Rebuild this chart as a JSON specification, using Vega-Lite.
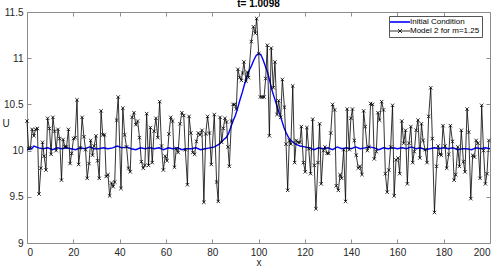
{
"$schema": "https://vega.github.io/schema/vega-lite/v6.json",
"width": 463, "height": 231,
"autosize": {"type": "none"},
"padding": {"left": 27, "top": 12, "right": 8, "bottom": 23},
"background": "white",
"config": {
  "font": "Liberation Sans",
  "view": {"stroke": null},
  "axis": {"grid": false, "minExtent": 0, "domainColor": "#8c8c8c", "tickColor": "#8c8c8c", "domainWidth": 1, "tickWidth": 1, "tickSize": -4, "labelPadding": 8, "labelColor": "#262626", "labelFontSize": 10, "titleColor": "#262626", "titleFontSize": 10, "titleFontWeight": "normal"}
},
"title": {"text": "t= 1.0098", "fontSize": 10, "fontWeight": "bold", "offset": 4.5, "dy": 14.5, "baseline": "alphabetic", "anchor": "middle", "color": "#000"},
"datasets": {
"init": [
{"x":0,"y":10.01},{"x":2,"y":10.02},{"x":3,"y":10.05},{"x":5,"y":10.03},{"x":7,"y":10.02},{"x":9,"y":10.03},{"x":11,"y":10.01},{"x":13,"y":10.03},{"x":15,"y":10.02},{"x":17,"y":10.03},{"x":19,"y":10.02},{"x":21,"y":10.01},{"x":23,"y":10.03},{"x":25,"y":10.02},{"x":27,"y":10.04},{"x":29,"y":10.02},{"x":31,"y":10.02},{"x":33,"y":10.03},{"x":35,"y":10.02},{"x":37,"y":10.03},{"x":39,"y":10.05},{"x":41,"y":10.03},{"x":43,"y":10.04},{"x":45,"y":10.02},{"x":47,"y":10.01},{"x":49,"y":10.03},{"x":51,"y":10.02},{"x":53,"y":10.03},{"x":55,"y":10.02},{"x":57,"y":10.03},{"x":59,"y":10.01},{"x":61,"y":10.03},{"x":63,"y":10.02},{"x":65,"y":10.03},{"x":67,"y":10.01},{"x":69,"y":10.02},{"x":71,"y":10.02},{"x":73,"y":10.03},{"x":75,"y":10.01},{"x":77,"y":10.02},{"x":79,"y":10.03},{"x":81,"y":10.04},{"x":83,"y":10.07},{"x":85,"y":10.12},{"x":86,"y":10.14},{"x":87,"y":10.18},{"x":88,"y":10.25},{"x":89,"y":10.32},{"x":90,"y":10.38},{"x":91,"y":10.46},{"x":92,"y":10.55},{"x":93,"y":10.63},{"x":94,"y":10.72},{"x":95,"y":10.8},{"x":96,"y":10.87},{"x":97,"y":10.92},{"x":98,"y":10.98},{"x":99,"y":11.03},{"x":100,"y":11.05},{"x":101,"y":11.04},{"x":102,"y":10.98},{"x":103,"y":10.91},{"x":104,"y":10.84},{"x":105,"y":10.74},{"x":106,"y":10.64},{"x":107,"y":10.56},{"x":108,"y":10.48},{"x":109,"y":10.4},{"x":110,"y":10.33},{"x":111,"y":10.25},{"x":112,"y":10.19},{"x":113,"y":10.14},{"x":114,"y":10.11},{"x":115,"y":10.09},{"x":116,"y":10.07},{"x":117,"y":10.06},{"x":118,"y":10.05},{"x":120,"y":10.04},{"x":122,"y":10.03},{"x":124,"y":10.01},{"x":126,"y":10.03},{"x":128,"y":10.02},{"x":130,"y":10.03},{"x":132,"y":10.01},{"x":134,"y":10.04},{"x":136,"y":10.02},{"x":138,"y":10.03},{"x":140,"y":10.02},{"x":142,"y":10.04},{"x":144,"y":10.02},{"x":146,"y":10.03},{"x":148,"y":10.04},{"x":150,"y":10.03},{"x":152,"y":10.01},{"x":154,"y":10.03},{"x":156,"y":10.02},{"x":158,"y":10.03},{"x":160,"y":10.02},{"x":162,"y":10.03},{"x":164,"y":10.02},{"x":166,"y":10.04},{"x":168,"y":10.02},{"x":170,"y":10.03},{"x":172,"y":10.01},{"x":174,"y":10.02},{"x":176,"y":10.03},{"x":178,"y":10.02},{"x":180,"y":10.03},{"x":182,"y":10.02},{"x":184,"y":10.03},{"x":186,"y":10.01},{"x":188,"y":10.02},{"x":190,"y":10.02},{"x":192,"y":10.01},{"x":194,"y":10.03},{"x":196,"y":10.02},{"x":198,"y":10.03},{"x":200,"y":10.02}
],
"model": [
{"x":0,"y":10.32},{"x":0.7,"y":10.02},{"x":1.5,"y":10.03},{"x":2.2,"y":10.23},{"x":3.0,"y":10.16},{"x":3.7,"y":10.23},{"x":4.5,"y":10.24},{"x":5.2,"y":9.53},{"x":6.0,"y":9.81},{"x":6.7,"y":10.09},{"x":7.4,"y":9.94},{"x":8.2,"y":9.79},{"x":8.9,"y":10.35},{"x":9.7,"y":10.24},{"x":10.4,"y":9.96},{"x":11.2,"y":10.36},{"x":11.9,"y":10.21},{"x":12.6,"y":10.0},{"x":13.4,"y":10.23},{"x":14.1,"y":10.13},{"x":14.9,"y":9.68},{"x":15.6,"y":10.12},{"x":16.4,"y":10.04},{"x":17.1,"y":10.04},{"x":17.9,"y":10.23},{"x":18.6,"y":9.86},{"x":19.3,"y":9.97},{"x":20.1,"y":10.13},{"x":20.8,"y":10.14},{"x":21.6,"y":10.55},{"x":22.3,"y":9.85},{"x":23.1,"y":10.03},{"x":23.8,"y":10.36},{"x":24.6,"y":10.15},{"x":25.3,"y":10.01},{"x":26.0,"y":9.7},{"x":26.8,"y":9.86},{"x":27.5,"y":10.11},{"x":28.3,"y":9.95},{"x":29.0,"y":10.05},{"x":29.8,"y":10.16},{"x":30.5,"y":9.89},{"x":31.2,"y":9.7},{"x":32.0,"y":10.43},{"x":32.7,"y":10.17},{"x":33.5,"y":10.17},{"x":34.2,"y":9.72},{"x":35.0,"y":9.74},{"x":35.7,"y":9.51},{"x":36.5,"y":9.65},{"x":37.2,"y":9.61},{"x":37.9,"y":9.66},{"x":38.7,"y":10.33},{"x":39.4,"y":10.58},
{"x":40.6,"y":9.59},{"x":41.4,"y":10.46},{"x":42.2,"y":10.17},{"x":43.0,"y":10.04},{"x":43.8,"y":9.81},{"x":44.6,"y":9.77},{"x":45.4,"y":10.36},{"x":46.2,"y":10.41},{"x":47.0,"y":10.28},{"x":47.8,"y":10.32},{"x":48.6,"y":10.14},{"x":49.4,"y":9.88},{"x":50.2,"y":9.81},{"x":50.9,"y":9.84},{"x":51.7,"y":10.4},{"x":52.5,"y":9.84},{"x":53.3,"y":10.25},{"x":54.1,"y":9.87},{"x":54.9,"y":10.21},{"x":55.7,"y":10.35},{"x":56.5,"y":10.14},{"x":57.3,"y":10.53},{"x":58.1,"y":10.05},{"x":58.9,"y":9.79},{"x":59.7,"y":9.94},{"x":60.5,"y":9.89},{"x":61.3,"y":10.18},{"x":62.1,"y":10.36},{"x":62.9,"y":10.32},{"x":63.7,"y":9.82},{"x":64.5,"y":10.02},{"x":65.3,"y":9.98},{"x":66.1,"y":10.29},{"x":66.9,"y":10.41},{"x":67.7,"y":10.38},{"x":68.4,"y":10.01},{"x":69.3,"y":9.63},{"x":70.0,"y":10.37},{"x":70.8,"y":10.19},{"x":71.6,"y":9.98},{"x":72.4,"y":9.96},{"x":73.2,"y":10.1},{"x":74.0,"y":10.19},{"x":74.8,"y":10.17},{"x":75.6,"y":10.22},{"x":76.4,"y":9.44},{"x":77.2,"y":10.18},{"x":78.0,"y":10.37},{"x":78.8,"y":10.19},{"x":79.6,"y":9.85},
{"x":80.9,"y":10.39},{"x":81.9,"y":9.66},{"x":82.6,"y":9.45},{"x":83.4,"y":10.36},{"x":84.1,"y":10.09},{"x":84.8,"y":10.24},{"x":85.5,"y":10.35},{"x":86.2,"y":10.31},{"x":86.8,"y":10.04},{"x":87.4,"y":9.83},{"x":88.3,"y":10.32},{"x":89.0,"y":10.5},{"x":89.7,"y":10.5},{"x":90.4,"y":10.45},{"x":91.1,"y":10.88},{"x":91.9,"y":10.79},{"x":92.6,"y":10.76},{"x":93.1,"y":10.84},{"x":93.7,"y":10.96},{"x":94.6,"y":10.75},{"x":95.2,"y":10.85},{"x":95.7,"y":10.79},{"x":96.9,"y":11.18},{"x":97.8,"y":11.34},{"x":98.6,"y":11.27},{"x":99.2,"y":11.43},{"x":100.1,"y":11.05},{"x":100.8,"y":10.58},{"x":101.6,"y":10.58},{"x":102.4,"y":10.58},{"x":103.1,"y":10.78},{"x":103.8,"y":11.14},{"x":104.7,"y":10.16},{"x":105.5,"y":11.11},{"x":106.4,"y":10.68},{"x":107.1,"y":10.96},{"x":108.0,"y":10.39},{"x":108.7,"y":10.54},{"x":109.6,"y":10.36},{"x":110.3,"y":10.77},{"x":111.2,"y":10.47},{"x":111.9,"y":10.07},{"x":112.6,"y":9.57},{"x":113.3,"y":10.11},{"x":114.0,"y":10.07},{"x":114.8,"y":10.7},{"x":115.6,"y":9.87},{"x":116.3,"y":10.11},{"x":117.1,"y":10.09},{"x":117.9,"y":10.09},{"x":118.5,"y":10.26},{"x":119.4,"y":9.87},{"x":120.2,"y":9.77},{"x":120.9,"y":10.25},{"x":121.7,"y":10.02},{"x":122.5,"y":9.75},{"x":123.4,"y":10.34},{"x":124.1,"y":9.84},{"x":124.8,"y":9.37},{"x":125.7,"y":9.87},{"x":126.4,"y":10.29},{"x":127.1,"y":9.64},{"x":128.0,"y":10.0},{"x":128.7,"y":10.04},{"x":129.6,"y":9.97},{"x":130.3,"y":9.97},{"x":131.2,"y":10.19},
{"x":132.0,"y":10.5},{"x":132.9,"y":10.44},{"x":133.6,"y":9.62},{"x":134.5,"y":9.57},{"x":135.2,"y":9.74},{"x":135.9,"y":9.7},{"x":136.8,"y":10.01},{"x":137.6,"y":9.45},{"x":138.3,"y":10.45},{"x":139.2,"y":10.01},{"x":139.9,"y":10.35},{"x":140.6,"y":10.45},{"x":141.4,"y":10.11},{"x":142.2,"y":9.95},{"x":143.1,"y":9.81},{"x":143.8,"y":9.83},{"x":144.7,"y":9.74},{"x":145.4,"y":10.43},{"x":146.1,"y":10.26},{"x":147.0,"y":10.0},{"x":147.7,"y":10.04},{"x":148.4,"y":10.51},{"x":149.3,"y":10.5},{"x":150.0,"y":9.91},{"x":150.9,"y":9.99},{"x":151.6,"y":10.41},{"x":152.3,"y":10.33},{"x":153.2,"y":10.53},{"x":154.0,"y":10.44},{"x":154.8,"y":9.75},{"x":155.6,"y":9.55},{"x":156.3,"y":9.79},{"x":157.1,"y":10.04},
{"x":157.9,"y":10.49},{"x":158.6,"y":9.51},{"x":159.4,"y":9.9},{"x":160.3,"y":9.92},{"x":161.0,"y":9.75},{"x":161.9,"y":10.32},{"x":162.7,"y":10.08},{"x":163.5,"y":10.22},{"x":164.3,"y":9.64},{"x":165.0,"y":10.08},{"x":165.8,"y":10.26},{"x":166.6,"y":9.87},{"x":167.3,"y":9.99},{"x":168.1,"y":10.22},{"x":168.9,"y":10.33},{"x":169.7,"y":9.92},{"x":170.4,"y":10.29},{"x":171.1,"y":10.11},{"x":172.0,"y":10.01},{"x":172.8,"y":9.87},{"x":173.5,"y":10.37},{"x":174.4,"y":10.68},{"x":175.1,"y":10.13},{"x":176.0,"y":9.33},{"x":176.9,"y":9.83},{"x":177.6,"y":10.05},{"x":178.3,"y":9.96},{"x":179.0,"y":9.95},{"x":179.7,"y":10.27},{"x":180.6,"y":10.05},{"x":181.3,"y":9.81},{"x":182.2,"y":9.96},{"x":182.9,"y":10.27},{"x":183.8,"y":10.1},{"x":184.5,"y":9.68},{"x":185.2,"y":9.74},{"x":186.1,"y":10.04},{"x":186.8,"y":9.83},{"x":187.6,"y":10.22},{"x":188.5,"y":9.88},{"x":189.2,"y":9.77},{"x":190.1,"y":10.45},{"x":190.8,"y":10.2},{"x":191.7,"y":9.48},{"x":192.5,"y":9.95},{"x":193.3,"y":9.93},{"x":194.0,"y":10.11},{"x":194.8,"y":10.08},{"x":195.7,"y":9.7},{"x":196.4,"y":10.49},{"x":197.2,"y":10.0},{"x":198.0,"y":9.64},{"x":198.7,"y":9.75},{"x":199.5,"y":10.11}
]
},
"layer": [
  {
    "data": {"name": "init"},
    "mark": {"type": "line", "strokeWidth": 1.4},
    "encoding": {
      "x": {"field": "x", "type": "quantitative", "scale": {"domain": [0, 200], "nice": false, "zero": false},
            "axis": {"orient": "bottom", "values": [0,20,40,60,80,100,120,140,160,180,200], "title": "x", "titleY": 22, "titleBaseline": "alphabetic"}},
      "y": {"field": "y", "type": "quantitative", "scale": {"domain": [9, 11.5], "nice": false, "zero": false},
            "axis": {"orient": "left", "values": [9, 9.5, 10, 10.5, 11, 11.5], "format": "~g", "title": "U", "titleAngle": 0, "titleX": -25, "titleY": 111, "titleAlign": "left", "titleBaseline": "middle"}},
      "color": {"datum": "Initial Condition", "type": "nominal",
        "scale": {"domain": ["Initial Condition", "Model 2 for m=1.25"], "range": ["#0000ff", "#000000"]},
        "legend": {"orient": "none", "legendX": 362, "legendY": 4, "title": null, "labelFontSize": 8, "labelColor": "#000", "symbolSize": 100, "padding": 2, "rowPadding": 1, "strokeColor": "#555", "fillColor": "white", "labelOffset": 11, "labelLimit": 300,
          "encode": {"symbols": {"update": {
            "shape": {"signal": "datum.value === 'Initial Condition' ? 'M-1,0L3,0' : 'M-1,0L3,0M0.6,-0.4L1.4,0.4M0.6,0.4L1.4,-0.4'"},
            "strokeWidth": {"signal": "datum.value === 'Initial Condition' ? 1.6 : 0.8"}}}}}
      }
    }
  },
  {
    "data": {"name": "model"},
    "mark": {"type": "line", "strokeWidth": 0.8},
    "encoding": {
      "x": {"field": "x", "type": "quantitative", "scale": {"domain": [0, 200], "nice": false, "zero": false},
            "axis": {"orient": "top", "values": [0,20,40,60,80,100,120,140,160,180,200], "labels": false, "title": null}},
      "y": {"field": "y", "type": "quantitative", "scale": {"domain": [9, 11.5], "nice": false, "zero": false},
            "axis": {"orient": "right", "values": [9, 9.5, 10, 10.5, 11, 11.5], "labels": false, "title": null}},
      "color": {"datum": "Model 2 for m=1.25", "type": "nominal"}
    }
  },
  {
    "data": {"name": "model"},
    "mark": {"type": "point", "shape": "M-1,-1L1,1M-1,1L1,-1", "size": 12, "strokeWidth": 0.8, "filled": false, "color": "#000", "opacity": 1},
    "encoding": {
      "x": {"field": "x", "type": "quantitative", "scale": {"domain": [0, 200], "nice": false, "zero": false}, "axis": null},
      "y": {"field": "y", "type": "quantitative", "scale": {"domain": [9, 11.5], "nice": false, "zero": false}, "axis": null}
    }
  }
],
"resolve": {"axis": {"x": "independent", "y": "independent"}}
}
